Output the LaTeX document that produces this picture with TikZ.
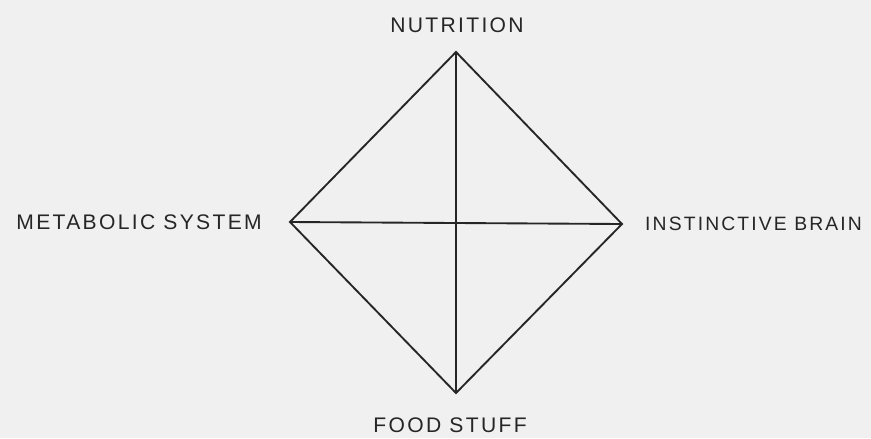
\documentclass[tikz,border=0pt]{standalone}
\usepackage{fontspec}
\setsansfont{Liberation Sans}[LetterSpace=11]
\usepackage{tikz}
\usetikzlibrary{calc}

\tikzset{
    edge/.style={line width=1.6pt, black!85},
    corner/.style={font=\sffamily\fontsize{18}{20}\selectfont, text=black!85, inner sep=0pt}
}

\begin{document}
\begin{tikzpicture}[x=0.03cm, y=-0.03cm]
    % Background of the scanned page
    \fill[black!6] (0,0) rectangle (871,438);
    \useasboundingbox (0,0) rectangle (871,438);

    % Corners of the diamond
    \coordinate (nut) at (456,52);
    \coordinate (food) at (456,393);
    \coordinate (meta) at (290,222);
    \coordinate (brain) at (622,224);

    % Outline and the two diagonals
    \draw[edge, line join=miter] (nut) -- (brain) -- (food) -- (meta) -- cycle;
    \draw[edge] (nut) -- (food);
    \draw[edge] (meta) -- (brain);

    % Labels
    \node[corner] (lnut) at (457,25) {NUTRITION};
    \node[corner, anchor=east] (lmeta) at (262,222) {METABOLIC SYSTEM};
    \node[corner, anchor=west, font=\sffamily\fontsize{16.5}{20}\selectfont] (lbrain) at (645,224) {INSTINCTIVE BRAIN};
    \node[corner] (lfood) at (450,425) {FOOD STUFF};
\end{tikzpicture}
\end{document}
